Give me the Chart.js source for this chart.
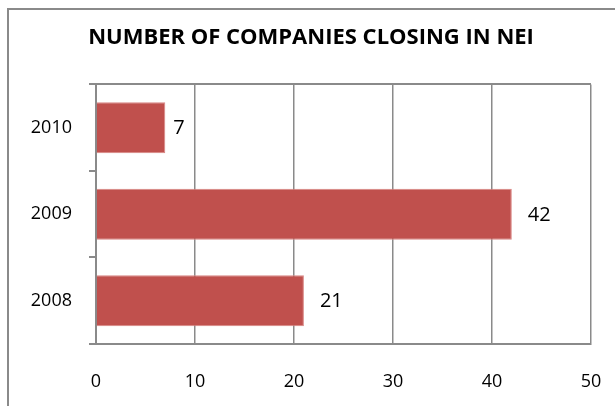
<!DOCTYPE html>
<html>
<head>
<meta charset="utf-8">
<title>Number of companies closing in NEI</title>
<script src="https://cdn.jsdelivr.net/npm/chart.js@4/dist/chart.umd.min.js"></script>
<style>
  body { margin: 0; background: #fff; overflow: hidden; }
  #marco {
    position: absolute; left: 7px; top: 8px;
    width: 800px; height: 600px;
    border: 2px solid #8a8a8a;
  }
  #myChart { position: absolute; left: 0; top: 0; }
</style>
</head>
<body>
<div id="marco"></div>
<canvas id="myChart" width="615" height="406"></canvas>
<script>
// datos del grafico
const anios = ["2010", "2009", "2008"];
const empresasCerradas = [7, 42, 21];
const ticksX = [0, 10, 20, 30, 40, 50];

const colorBarra = "#c0504d";
const colorLinea = "#8a8a8a";

// plugin que escribe el valor al lado de cada barra
const etiquetasBarras = {
  id: "etiquetasBarras",
  afterDatasetsDraw(chart) {
    const ctx = chart.ctx;
    const meta = chart.getDatasetMeta(0);
    ctx.save();
    ctx.font = "20px 'Open Sans'";
    ctx.fillStyle = "#000";
    ctx.textAlign = "left";
    ctx.textBaseline = "middle";
    meta.data.forEach((barra, i) => {
      const texto = String(empresasCerradas[i]);
      ctx.fillText(texto, barra.x + 8 * texto.length, barra.y + 1);
    });
    ctx.restore();
  }
};

const config = {
  type: "bar",
  data: {
    labels: anios,
    datasets: [{
      data: empresasCerradas,
      backgroundColor: colorBarra,
      borderColor: "#d98583",
      borderWidth: 1,
      borderSkipped: "left",
      categoryPercentage: 1,
      barPercentage: 0.59
    }]
  },
  options: {
    indexAxis: "y",
    responsive: false,
    animation: false,
    devicePixelRatio: 1,
    layout: { padding: { left: 31, right: 24, top: 0, bottom: 0 } },
    plugins: {
      legend: { display: false },
      tooltip: { enabled: false },
      title: {
        display: true,
        text: "NUMBER OF COMPANIES CLOSING IN NEI",
        color: "#000",
        font: { family: "'Open Sans'", size: 22, weight: "bold" },
        padding: { top: 25, bottom: 33 }
      }
    },
    scales: {
      x: {
        min: ticksX[0],
        max: ticksX[ticksX.length - 1],
        afterBuildTicks: (scale) => {
          scale.ticks = ticksX.map(v => ({ value: v }));
        },
        afterFit: (scale) => {
          scale.height = 62;
          // sin espacio extra por la etiqueta "50"
          scale.paddingLeft = 0;
          scale.paddingRight = 0;
        },
        grid: { color: colorLinea, lineWidth: 1.5, drawTicks: false },
        border: { color: colorLinea, width: 2 },
        ticks: {
          color: "#000",
          padding: 27,
          font: { family: "'Open Sans'", size: 18 }
        }
      },
      y: {
        afterFit: (scale) => { scale.width = 65; },
        grid: {
          offset: true,
          tickLength: 7,
          lineWidth: 2,
          tickColor: colorLinea,
          color: (c) => c.index === 0 ? colorLinea : "transparent"
        },
        border: { color: colorLinea, width: 2 },
        ticks: {
          color: "#000",
          padding: 17,
          font: { family: "'Open Sans'", size: 18 }
        }
      }
    }
  },
  plugins: [etiquetasBarras]
};

const chartDOM = document.getElementById("myChart");
new Chart(chartDOM, config);
</script>
</body>
</html>
